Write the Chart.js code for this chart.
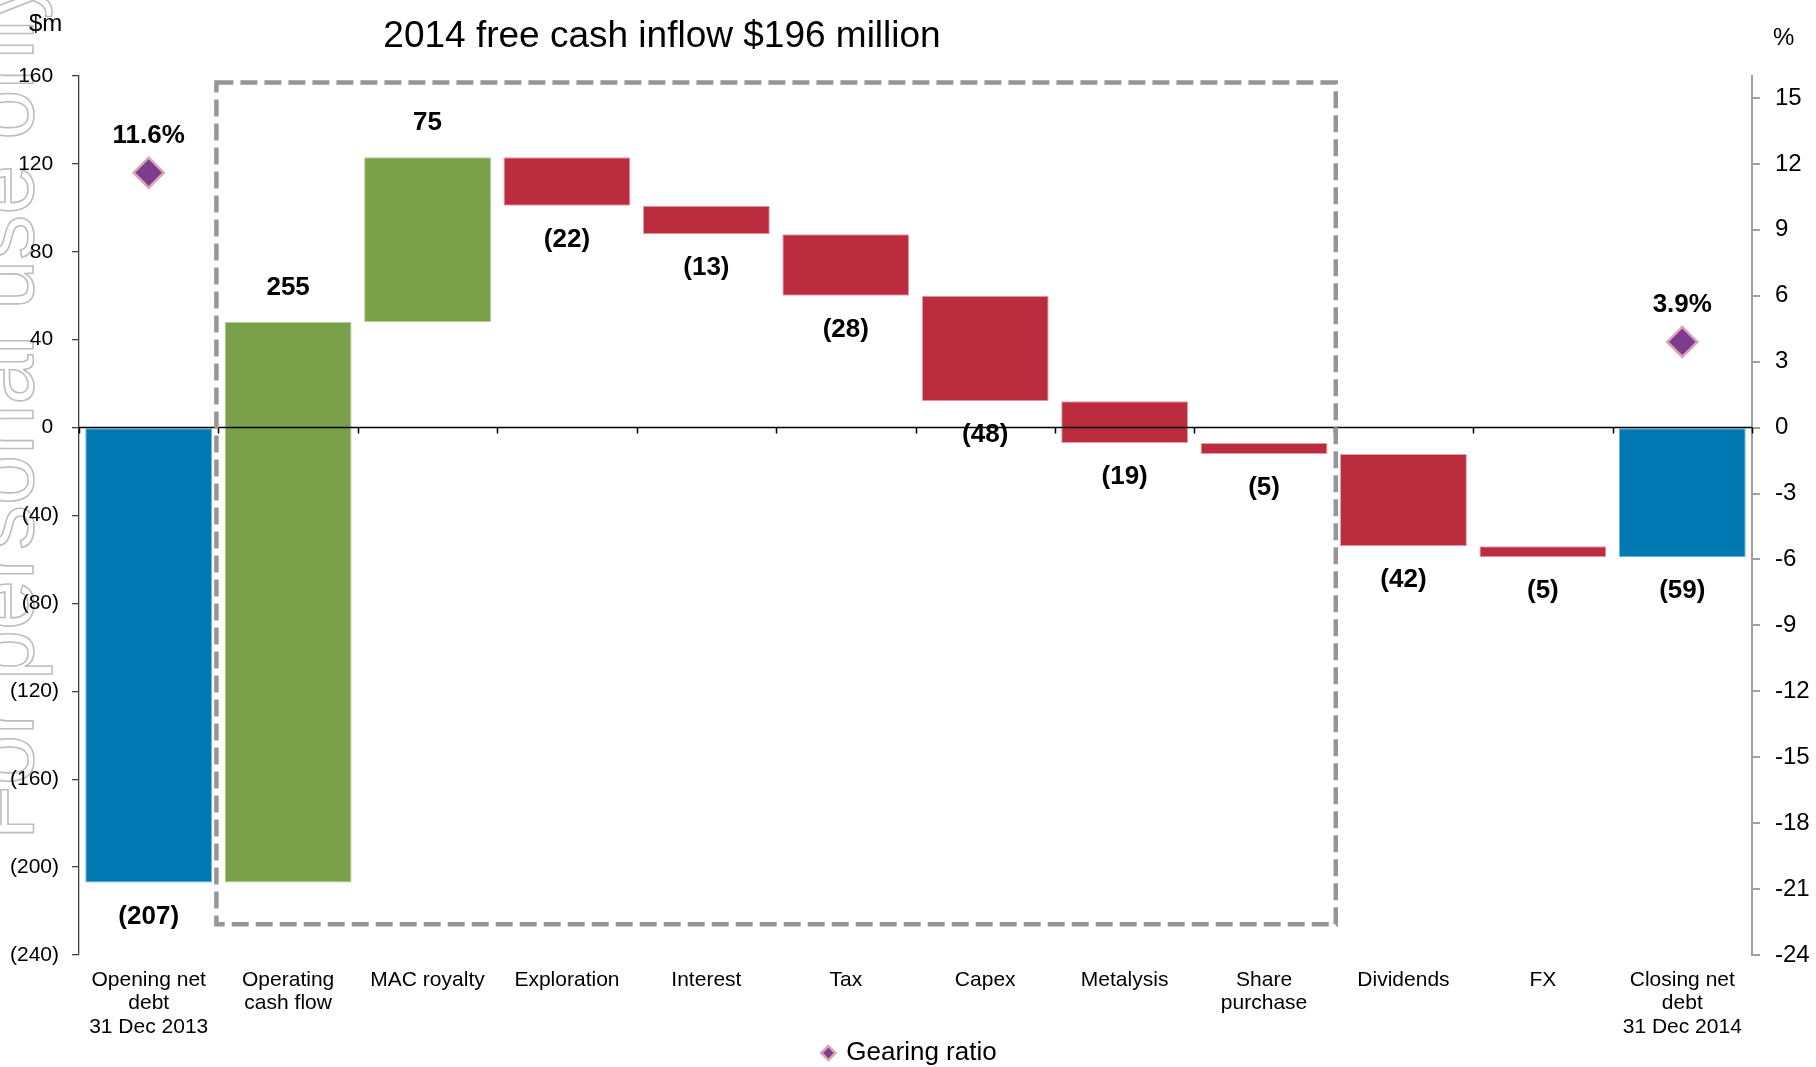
<!DOCTYPE html>
<html>
<head>
<meta charset="utf-8">
<title>2014 free cash inflow $196 million</title>
<script src="https://cdn.jsdelivr.net/npm/chart.js@4.4.1/dist/chart.umd.min.js"></script>
<style>
  html, body { margin: 0; padding: 0; background: #fff; }
  #wrap {
    position: relative; width: 1816px; height: 1067px; overflow: hidden;
    font-family: 'Liberation Sans', Arial, sans-serif; color: #000;
  }
  #chart { position: absolute; left: 0; top: 0; }
  .watermark {
    position: absolute; left: 0; top: 0;
    font-size: 90px; line-height: 90px; white-space: nowrap;
    color: transparent; -webkit-text-stroke: 1.6px #bdbdbd;
    transform-origin: 0 0;
    transform: translate(-43px, 840px) rotate(-90deg);
  }
  .title {
    position: absolute; left: 662px; top: 35px;
    transform: translate(-50%, -50%);
    font-size: 37px; white-space: nowrap;
  }
  .unit { position: absolute; font-size: 24px; transform: translateY(-50%); }
</style>
</head>
<body>
<div id="wrap">
  <div class="watermark">For personal use only</div>
  <canvas id="chart" width="1816" height="1067"></canvas>
  <div class="title">2014 free cash inflow $196 million</div>
  <div class="unit" style="left:29px; top:23px;">$m</div>
  <div class="unit" style="left:1773px; top:37px;">%</div>
</div>
<script>
// Categories along the bottom
const categories = [
    ['Opening net', 'debt', '31 Dec 2013'],
    ['Operating', 'cash flow'],
    'MAC royalty',
    'Exploration',
    'Interest',
    'Tax',
    'Capex',
    'Metalysis',
    ['Share', 'purchase'],
    'Dividends',
    'FX',
    ['Closing net', 'debt', '31 Dec 2014']
];

// $m values: totals at both ends, movements in between
const movements = [-207, 255, 75, -22, -13, -28, -48, -19, -5, -42, -5, -59];
const isTotal = [true, false, false, false, false, false, false, false, false, false, false, true];

// Gearing ratio (%) on the right axis
const gearing = [11.6, null, null, null, null, null, null, null, null, null, null, 3.9];

// Tick values for both axes
const cashTicks = [-240, -200, -160, -120, -80, -40, 0, 40, 80, 120, 160];
const gearingTicks = [-24, -21, -18, -15, -12, -9, -6, -3, 0, 3, 6, 9, 12, 15];

// Dashed box round the free cash flow items (category range and $m range)
const boxFrom = 1, boxTo = 8, boxTop = 157, boxBottom = -226;

const colors = {
    total: '#0079b2',
    up: '#7aa049',
    down: '#bb2c3e'
};

// Build the floating bars from the running total
let running = 0;
const floating = movements.map((v, i) => {
    if (isTotal[i]) {
        running = v;
        return [0, v];
    }
    const start = running;
    running += v;
    return [start, running];
});
const barColors = movements.map((v, i) => isTotal[i] ? colors.total : (v >= 0 ? colors.up : colors.down));
const barEdges = movements.map((v, i) => isTotal[i] ? '#6fb4d8' : (v >= 0 ? '#b5cc95' : '#e2a0aa'));

function formatCash(v) {
    return v < 0 ? '(' + Math.abs(v) + ')' : String(v);
}

// Zero line with category ticks, and the dashed box
const framePlugin = {
    id: 'frame',
    afterDatasetsDraw(chart) {
        const { ctx, chartArea, scales: { x, y } } = chart;
        const y0 = y.getPixelForValue(0);
        ctx.save();
        ctx.strokeStyle = '#000';
        ctx.lineWidth = 1.5;
        ctx.beginPath();
        ctx.moveTo(chartArea.left, y0);
        ctx.lineTo(chartArea.right, y0);
        for (let i = 0; i <= categories.length; i++) {
            const px = Math.round(x.getPixelForValue(i - 0.5)) + 0.5;
            ctx.moveTo(px, y0);
            ctx.lineTo(px, y0 + 6);
        }
        ctx.stroke();

        const left = x.getPixelForValue(boxFrom - 0.5) - 2;
        const right = x.getPixelForValue(boxTo + 0.5) + 2;
        const top = y.getPixelForValue(boxTop);
        const bottom = y.getPixelForValue(boxBottom);
        ctx.setLineDash([17, 7]);
        ctx.lineWidth = 4.5;
        ctx.strokeStyle = '#969696';
        ctx.strokeRect(left, top, right - left, bottom - top);
        ctx.restore();
    }
};

// Bold value labels above/below the bars and over the diamonds
const labelPlugin = {
    id: 'valueLabels',
    afterDraw(chart) {
        const ctx = chart.ctx;
        ctx.save();
        ctx.font = 'bold 26px "Liberation Sans", Arial, sans-serif';
        ctx.fillStyle = '#000';
        ctx.textAlign = 'center';
        ctx.textBaseline = 'middle';

        chart.getDatasetMeta(0).data.forEach((bar, i) => {
            const v = movements[i];
            const top = Math.min(bar.y, bar.base);
            const bottom = Math.max(bar.y, bar.base);
            if (v >= 0) {
                ctx.fillText(formatCash(v), bar.x, top - 34);
            } else {
                ctx.fillText(formatCash(v), bar.x, bottom + 34);
            }
        });

        chart.getDatasetMeta(1).data.forEach((pt, i) => {
            if (gearing[i] === null) return;
            ctx.fillText(gearing[i].toFixed(1) + '%', pt.x, pt.y - 37);
        });
        ctx.restore();
    }
};

Chart.defaults.font.family = '"Liberation Sans", Arial, sans-serif';
Chart.defaults.color = '#000';

const ctx = document.getElementById('chart').getContext('2d');
new Chart(ctx, {
    data: {
        labels: categories,
        datasets: [
            {
                type: 'bar',
                label: 'Cash',
                data: floating,
                backgroundColor: barColors,
                borderColor: barEdges,
                borderWidth: 1,
                borderSkipped: false,
                barPercentage: 0.91,
                categoryPercentage: 1,
                yAxisID: 'y'
            },
            {
                type: 'line',
                label: 'Gearing ratio',
                data: gearing,
                yAxisID: 'y1',
                showLine: false,
                pointStyle: 'rectRot',
                pointRadius: 15,
                pointHoverRadius: 15,
                pointBackgroundColor: '#7d3c8e',
                pointBorderColor: '#d9a3b8',
                pointBorderWidth: 2.5,
                backgroundColor: '#7d3c8e',
                borderColor: '#d9a3b8'
            }
        ]
    },
    options: {
        responsive: false,
        animation: false,
        devicePixelRatio: 1,
        layout: {
            padding: { left: 10, right: 6, top: 76, bottom: -9 }
        },
        plugins: {
            tooltip: { enabled: false },
            legend: {
                position: 'bottom',
                labels: {
                    usePointStyle: true,
                    boxWidth: 10,
                    boxHeight: 10,
                    padding: 1,
                    font: { size: 26, lineHeight: 1 },
                    color: '#000',
                    filter: item => item.datasetIndex === 1
                }
            }
        },
        scales: {
            x: {
                type: 'category',
                offset: true,
                grid: { display: false, drawTicks: false },
                border: { display: false },
                afterFit: scale => { scale.height = 84; scale.paddingLeft = 0; scale.paddingRight = 0; },
                ticks: {
                    autoSkip: false,
                    maxRotation: 0,
                    padding: 13,
                    font: { size: 21, lineHeight: 1.12 },
                    color: '#000'
                }
            },
            y: {
                position: 'left',
                min: -240,
                max: 160,
                afterBuildTicks: scale => { scale.ticks = cashTicks.map(v => ({ value: v })); },
                afterFit: scale => { scale.width = 69; },
                ticks: {
                    callback: v => v < 0 ? '(' + Math.abs(v) + ')' : v + ' ',
                    font: { size: 21 },
                    color: '#000',
                    padding: 13
                },
                grid: { drawOnChartArea: false, tickLength: 7, color: '#404040', lineWidth: 1.3 },
                border: { color: '#404040', width: 1.3 }
            },
            y1: {
                position: 'right',
                min: -24,
                max: 16,
                afterBuildTicks: scale => { scale.ticks = gearingTicks.map(v => ({ value: v })); },
                afterFit: scale => { scale.width = 58; },
                ticks: {
                    callback: v => String(v),
                    font: { size: 24 },
                    color: '#000',
                    padding: 15
                },
                grid: { drawOnChartArea: false, tickLength: 8, color: '#a0a0a0', lineWidth: 2 },
                border: { color: '#a0a0a0', width: 2 }
            }
        }
    },
    plugins: [framePlugin, labelPlugin]
});
</script>
</body>
</html>
